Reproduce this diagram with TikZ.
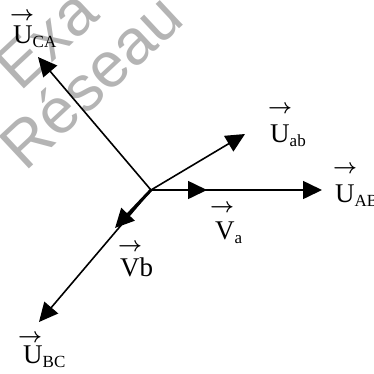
\documentclass[tikz,border=0pt]{standalone}
\usepackage{fontspec}
\setmainfont{Liberation Serif}
\newfontfamily\wmfont{Liberation Sans}
\usetikzlibrary{arrows.meta}
\definecolor{wmgray}{RGB}{180,180,180}
% #1 arrow shift left, #2 arrow centre above baseline, #3 letter, #4 subscript
\newcommand\vlab[4]{\makebox[0pt][l]{\hspace*{-#1pt}\raisebox{\dimexpr#2pt-6pt\relax}{\resizebox{24pt}{!}{\boldmath$\rightarrow$}}}#3\raisebox{-4pt}{\fontsize{17}{17}\selectfont#4}}
\tikzset{
  vec/.style={draw=black, line width=1.6pt, -{Triangle[length=19pt,width=18pt]}},
  vecthick/.style={vec, line width=3pt},
  lab/.style={inner sep=0pt, anchor=base west, font=\fontsize{27}{27}\selectfont},
  wm/.style={text=wmgray, font=\wmfont\fontsize{64}{64}\selectfont, rotate=43, inner sep=0pt}
}
\begin{document}
\begin{tikzpicture}[x=1pt,y=-1pt]
\useasboundingbox (0,0) rectangle (374,373);
\clip (0,0) rectangle (374,373);
% watermark
\node[wm] (wm1) at (90,80) {Réseau};
\node[wm] (wm2) at (32,52) {r Exa};
% points
\coordinate (O) at (151,190);
\coordinate (tUab) at (245,134);
\coordinate (tUAB) at (322,190);
\coordinate (tVa) at (207,190);
\coordinate (tUCA) at (38,57);
\coordinate (tUBC) at (39,322);
\coordinate (tVb) at (115,228);
% vectors
\draw[vec] (O) -- (tUCA);
\draw[vec] (O) -- (tUab);
\draw[vec] (O) -- (tUAB);
\draw[vec] (O) -- (tVa);
\draw[vec] (O) -- (tUBC);
\draw[vecthick] (O) -- (tVb);
% labels
\node[lab] (lUCA) at (13,43) {\vlab{3}{29}{U}{CA}};
\node[lab] (lUab) at (270,142) {\vlab{2}{35}{U}{ab}};
\node[lab] (lUAB) at (335,202) {\vlab{2}{35}{U}{AB}};
\node[lab] (lVa) at (215,239) {\vlab{5}{33}{V}{a}};
\node[lab] (lVb) at (120,276) {\vlab{2}{31}{Vb}{}};
\node[lab] (lUBC) at (23,363) {\vlab{5}{27}{U}{BC}};
\end{tikzpicture}
\end{document}
